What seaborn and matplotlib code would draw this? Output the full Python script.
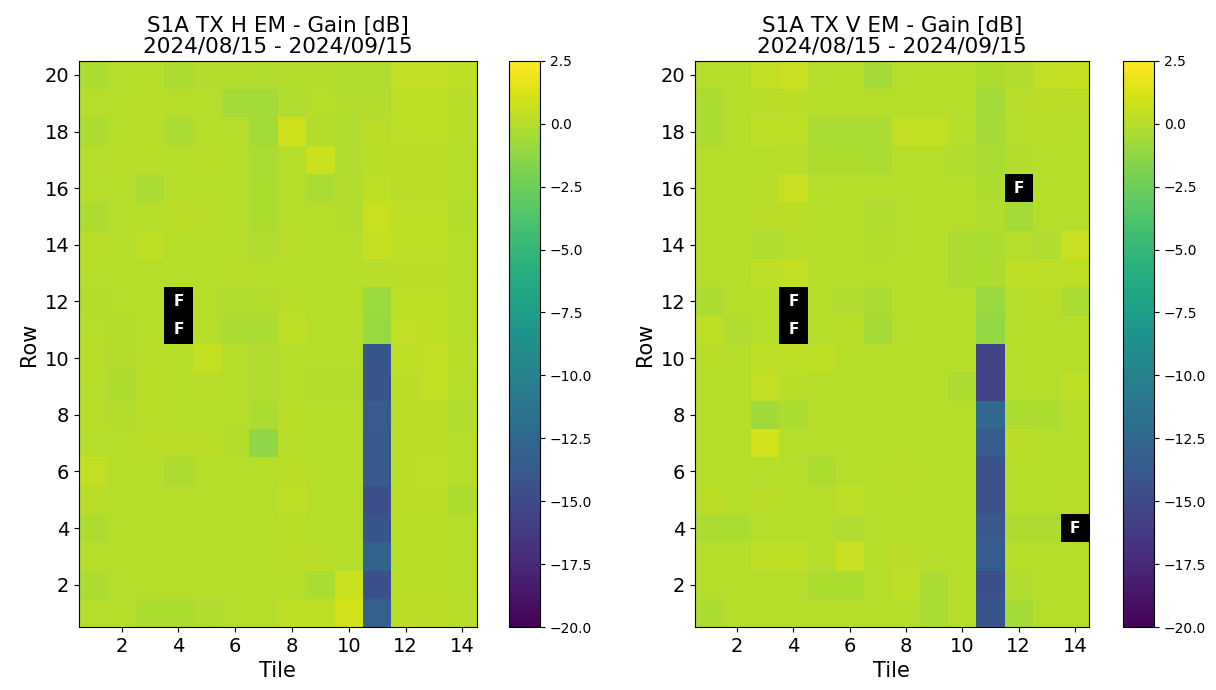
import numpy as np
import pandas as pd
import seaborn as sns
import matplotlib.pyplot as plt

nan = np.nan

# tiles (columns) and rows, rows listed from top (20) to bottom (1)
tiles = list(range(1, 15))
rows = list(range(20, 0, -1))

# gain in dB, H polarisation (NaN = failed element)
gain_h = [
    [-0.4, 0.0, 0.0, -0.3, -0.1, -0.1, -0.2, -0.1, -0.1, -0.2, -0.2, 0.4, 0.4, 0.3],
    [0.0, 0.0, 0.1, 0.0, 0.0, -0.5, -0.5, -0.2, 0.0, -0.1, -0.1, 0.3, 0.3, 0.1],
    [-0.3, 0.0, 0.1, -0.4, 0.0, 0.0, -0.6, 0.8, -0.1, -0.2, 0.2, 0.3, 0.3, 0.1],
    [0.0, 0.1, 0.1, 0.0, 0.1, 0.0, -0.4, 0.0, 0.7, -0.2, 0.1, 0.2, 0.2, 0.0],
    [0.0, 0.0, -0.4, 0.0, 0.0, 0.0, -0.3, 0.0, -0.4, -0.1, 0.3, 0.2, 0.2, 0.0],
    [-0.3, 0.0, 0.0, 0.2, 0.1, 0.0, -0.3, 0.0, 0.0, -0.1, 0.6, 0.3, 0.3, -0.1],
    [0.1, 0.0, 0.3, 0.0, 0.0, 0.0, -0.2, 0.1, 0.0, 0.0, 0.5, 0.3, 0.3, 0.0],
    [0.0, 0.0, 0.0, 0.0, 0.0, 0.1, 0.0, 0.0, 0.0, 0.0, 0.1, 0.2, 0.2, 0.0],
    [-0.1, 0.0, 0.0, nan, 0.0, -0.2, -0.1, 0.1, 0.0, 0.0, -0.9, 0.3, 0.3, 0.0],
    [0.0, -0.1, 0.0, nan, 0.0, -0.4, -0.4, 0.3, 0.0, 0.0, -1.1, 0.4, 0.3, 0.0],
    [0.1, -0.1, 0.1, 0.0, 0.5, 0.0, -0.2, 0.0, 0.0, 0.0, -14.0, 0.3, 0.4, 0.1],
    [0.0, -0.3, 0.1, 0.0, 0.1, 0.0, -0.2, 0.0, -0.1, -0.1, -14.2, 0.2, 0.4, 0.0],
    [0.1, -0.1, 0.1, 0.0, 0.0, 0.0, -0.3, 0.1, 0.0, 0.0, -13.6, 0.2, 0.2, -0.2],
    [0.0, 0.0, 0.2, 0.2, 0.2, -0.1, -1.3, 0.1, 0.0, 0.0, -13.7, 0.2, 0.2, 0.0],
    [0.4, 0.0, 0.0, -0.3, 0.0, 0.0, 0.0, 0.2, 0.0, 0.0, -13.8, 0.2, 0.3, 0.0],
    [0.2, 0.0, 0.0, 0.0, 0.0, 0.0, 0.0, 0.3, 0.0, 0.0, -14.6, 0.2, 0.2, -0.3],
    [-0.3, 0.0, 0.0, 0.0, 0.0, 0.0, 0.0, 0.1, 0.0, 0.0, -14.0, 0.1, 0.1, 0.0],
    [0.0, 0.0, 0.0, 0.0, 0.0, 0.0, 0.0, 0.2, 0.1, 0.0, -13.0, 0.1, 0.1, 0.0],
    [-0.3, 0.0, 0.0, 0.0, 0.0, 0.0, 0.0, 0.0, -0.4, 0.7, -14.5, 0.1, 0.1, 0.0],
    [0.0, 0.0, -0.3, -0.3, -0.2, 0.0, 0.0, 0.3, 0.3, 1.0, -13.2, 0.2, 0.2, 0.1],
]

# gain in dB, V polarisation (NaN = failed element)
gain_v = [
    [0.0, 0.0, 0.4, 0.6, 0.0, 0.0, -0.5, 0.0, 0.0, 0.0, -0.3, -0.1, 0.4, 0.5],
    [-0.3, 0.0, 0.1, 0.2, 0.0, 0.0, 0.0, 0.0, 0.0, 0.0, -0.6, 0.1, 0.2, 0.2],
    [-0.3, 0.0, 0.3, 0.3, -0.4, -0.4, -0.4, 0.4, 0.4, 0.0, -0.5, 0.0, 0.1, 0.0],
    [0.0, 0.0, 0.0, 0.1, -0.3, -0.3, -0.4, 0.0, 0.0, -0.2, -0.4, -0.1, 0.0, 0.0],
    [0.0, 0.0, 0.1, 0.6, 0.0, 0.0, 0.0, 0.0, 0.0, 0.0, -0.3, nan, 0.0, 0.0],
    [0.0, 0.0, 0.2, 0.2, 0.0, 0.0, -0.2, 0.0, 0.0, 0.0, -0.2, -0.5, 0.0, 0.0],
    [0.0, 0.0, -0.2, 0.0, 0.0, 0.0, -0.1, 0.0, 0.0, -0.3, -0.4, 0.0, -0.2, 0.6],
    [0.0, 0.0, 0.3, 0.4, 0.0, 0.0, 0.0, 0.0, 0.0, -0.3, -0.3, 0.3, 0.3, 0.3],
    [-0.3, 0.0, 0.0, nan, 0.0, -0.2, -0.4, 0.0, 0.0, 0.0, -1.0, 0.0, 0.2, -0.4],
    [0.3, -0.2, 0.0, nan, 0.0, 0.1, -0.5, 0.0, 0.0, 0.0, -1.2, 0.0, 0.0, 0.0],
    [0.1, 0.0, 0.3, 0.3, 0.3, 0.0, 0.0, 0.0, 0.0, 0.0, -15.5, 0.0, 0.0, 0.0],
    [0.0, 0.0, 0.4, 0.1, 0.0, 0.0, 0.0, 0.0, 0.0, -0.3, -15.6, 0.0, 0.0, 0.3],
    [0.0, 0.0, -0.7, -0.3, 0.0, 0.0, 0.0, 0.0, 0.0, 0.0, -12.5, -0.3, -0.3, 0.0],
    [0.0, 0.0, 1.0, 0.0, 0.0, 0.0, 0.0, 0.0, 0.0, 0.0, -13.5, 0.2, 0.0, 0.0],
    [0.0, 0.0, 0.0, 0.0, -0.3, 0.0, 0.0, 0.1, 0.0, 0.0, -14.3, 0.0, 0.0, 0.0],
    [0.2, 0.0, 0.2, 0.0, 0.0, 0.3, 0.0, 0.0, 0.0, 0.0, -14.3, 0.0, 0.0, 0.1],
    [-0.4, -0.4, 0.0, 0.0, 0.0, -0.2, 0.0, 0.0, 0.0, 0.0, -13.8, -0.3, -0.3, nan],
    [0.0, 0.0, 0.3, 0.3, 0.0, 0.6, 0.0, 0.2, 0.0, 0.0, -13.5, 0.0, 0.0, 0.0],
    [0.0, 0.0, 0.0, 0.0, -0.3, -0.3, 0.0, 0.3, -0.4, 0.0, -14.5, -0.2, 0.0, 0.0],
    [-0.3, 0.0, 0.0, 0.0, 0.0, 0.0, 0.0, 0.0, -0.4, 0.0, -14.0, -0.5, 0.0, 0.0],
]

titles = ["S1A TX H EM - Gain [dB]\n2024/08/15 - 2024/09/15",
          "S1A TX V EM - Gain [dB]\n2024/08/15 - 2024/09/15"]

fig = plt.figure(figsize=(12.16, 6.9), dpi=100)

# [x0, width] for the map and the colorbar, in figure fractions
panels = [(0.065, 0.327, 0.4186), (0.5715, 0.324, 0.9235)]

for grid, title, (x0, w, cx) in zip([gain_h, gain_v], titles, panels):
    df = pd.DataFrame(grid, index=rows, columns=tiles)
    ax = fig.add_axes([x0, 0.091, w, 0.821])
    cax = fig.add_axes([cx, 0.091, 0.0255, 0.821])
    ax.set_facecolor("black")
    sns.heatmap(df, ax=ax, cbar_ax=cax, cmap="viridis", vmin=-20, vmax=2.5,
                square=False, xticklabels=False, yticklabels=False)

    # failed elements
    for i, r in enumerate(rows):
        for j, t in enumerate(tiles):
            if np.isnan(df.loc[r, t]):
                ax.text(j + 0.5, i + 0.5, "F", color="white", fontsize=11,
                        fontweight="bold", ha="center", va="center")

    ax.set_xticks([t - 0.5 for t in tiles if t % 2 == 0])
    ax.set_xticklabels([str(t) for t in tiles if t % 2 == 0], fontsize=14)
    ax.set_yticks([(20 - r) + 0.5 for r in rows if r % 2 == 0])
    ax.set_yticklabels([str(r) for r in rows if r % 2 == 0], fontsize=14, rotation=0)
    ax.tick_params(length=3.5, width=0.8)
    for s in ax.spines.values():
        s.set_visible(True)
        s.set_linewidth(0.8)
    ax.set_xlabel("Tile", fontsize=15)
    ax.set_ylabel("Row", fontsize=15)
    ax.set_title(title, fontsize=15.5, linespacing=1.05)

    cbar = ax.collections[0].colorbar
    cbar.set_ticks(np.arange(-20, 2.6, 2.5))
    cbar.ax.tick_params(labelsize=10)
    cbar.outline.set_visible(True)
    cbar.outline.set_linewidth(0.8)

plt.savefig("out.png", dpi=100)
plt.close()
